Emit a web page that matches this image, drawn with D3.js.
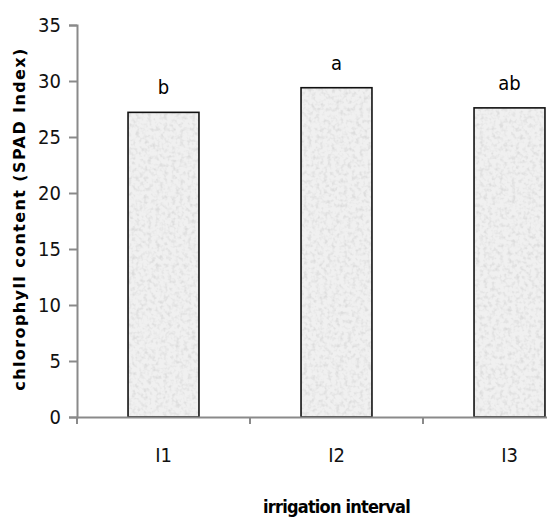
<!DOCTYPE html>
<html>
<head>
<meta charset="utf-8">
<script src="https://cdn.jsdelivr.net/npm/d3@7"></script>
<style>
  body { margin: 0; background: #fff; }
  svg { display: block; }
</style>
</head>
<body>
<div id="chart"></div>
<script>
// data
const categories = ["I1", "I2", "I3"];
const values = [27.2, 29.4, 27.6];
const letters = ["b", "a", "ab"];
const yTicks = [0, 5, 10, 15, 20, 25, 30, 35];

const width = 547, height = 518;
const margin = { left: 77, top: 25, bottom: 101 };
const plotRight = 596; // plot runs past the right edge, like the original crop

const svg = d3.select("#chart").append("svg")
    .attr("width", width)
    .attr("height", height);

// mottled grey fill for the bars
const defs = svg.append("defs");
const filt = defs.append("filter").attr("id", "grain")
    .attr("x", 0).attr("y", 0).attr("width", 1).attr("height", 1);
filt.append("feTurbulence")
    .attr("type", "fractalNoise")
    .attr("baseFrequency", 0.25)
    .attr("numOctaves", 3)
    .attr("seed", 3)
    .attr("result", "noise");
filt.append("feColorMatrix")
    .attr("in", "noise")
    .attr("type", "matrix")
    .attr("values", "0 0 0 0 0.72  0 0 0 0 0.72  0 0 0 0 0.72  2.6 0 0 0 -1.15")
    .attr("result", "speck");
filt.append("feComposite").attr("in", "speck").attr("in2", "SourceGraphic").attr("operator", "in")
    .attr("result", "clipped");
filt.append("feMerge").call(m => {
    m.append("feMergeNode").attr("in", "SourceGraphic");
    m.append("feMergeNode").attr("in", "clipped");
});

const x = d3.scaleBand()
    .domain(categories)
    .range([margin.left, plotRight])
    .paddingInner(0.59)
    .paddingOuter(0.295);

const y = d3.scaleLinear()
    .domain([0, 35])
    .range([height - margin.bottom, margin.top]);

const tickFont = "'Liberation Sans Narrow', 'DejaVu Sans Condensed', sans-serif";

// bars
svg.selectAll("rect.bar")
    .data(values)
    .enter()
    .append("rect")
    .attr("class", "bar")
    .attr("x", (d, i) => x(categories[i]))
    .attr("y", d => y(d))
    .attr("width", x.bandwidth())
    .attr("height", d => y(0) - y(d))
    .attr("fill", "#f0f0f0")
    .attr("filter", "url(#grain)");

svg.selectAll("rect.outline")
    .data(values)
    .enter()
    .append("rect")
    .attr("class", "outline")
    .attr("x", (d, i) => x(categories[i]))
    .attr("y", d => y(d))
    .attr("width", x.bandwidth())
    .attr("height", d => y(0) - y(d))
    .attr("fill", "none")
    .attr("stroke", "#111")
    .attr("stroke-width", 1.6);

// significance letters
svg.selectAll("text.letter")
    .data(values)
    .enter()
    .append("text")
    .attr("class", "letter")
    .attr("x", (d, i) => x(categories[i]) + x.bandwidth() / 2)
    .attr("y", d => y(d) - 18)
    .attr("text-anchor", "middle")
    .style("font-family", tickFont)
    .style("font-size", "20px")
    .text((d, i) => letters[i]);

// y axis
const yAxis = svg.append("g")
    .attr("transform", `translate(${margin.left},0)`)
    .call(d3.axisLeft(y).tickValues(yTicks).tickSize(8).tickPadding(8));
yAxis.selectAll("text")
    .style("font-family", tickFont)
    .style("font-size", "20px")
    .attr("fill", "#111");

// x axis
const xAxis = svg.append("g")
    .attr("transform", `translate(0,${y(0)})`)
    .call(d3.axisBottom(x).tickSize(0).tickPadding(31));
xAxis.selectAll("text")
    .style("font-family", tickFont)
    .style("font-size", "20px")
    .attr("fill", "#111");

// category boundary ticks
const bounds = categories.map(c => x(c) - x.step() * x.paddingInner() / 2);
bounds[0] = margin.left;
xAxis.selectAll("line.bound")
    .data(bounds)
    .enter()
    .append("line")
    .attr("class", "bound")
    .attr("x1", d => d).attr("x2", d => d)
    .attr("y1", 0).attr("y2", 7);

svg.selectAll(".domain, .tick line, line.bound")
    .attr("stroke", "#8a8a8a")
    .attr("stroke-width", 2);

// axis titles
svg.append("text")
    .attr("transform", `translate(20,${(y(0) + y(35)) / 2 - 2}) rotate(-90)`)
    .attr("text-anchor", "middle")
    .attr("dominant-baseline", "middle")
    .style("font-family", "'DejaVu Sans', sans-serif")
    .style("font-weight", "bold")
    .style("font-size", "16px")
    .style("letter-spacing", "1.4px")
    .text("chlorophyll content (SPAD Index)");

svg.append("text")
    .attr("x", (margin.left + plotRight) / 2)
    .attr("y", 513)
    .attr("text-anchor", "middle")
    .style("font-family", "'DejaVu Sans Condensed', 'Liberation Sans Narrow', sans-serif")
    .style("font-weight", "bold")
    .style("font-size", "18px")
    .style("letter-spacing", "-0.8px")
    .text("irrigation interval");
</script>
</body>
</html>
